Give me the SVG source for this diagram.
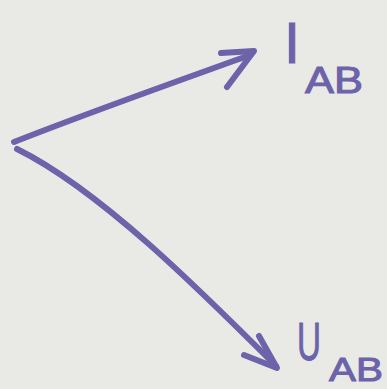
<svg xmlns="http://www.w3.org/2000/svg" width="387" height="389" viewBox="0 0 387 389">
<style>
.pen{fill:none;stroke:#6c63aa;stroke-width:6;stroke-linecap:round;stroke-linejoin:round}
.lbl{fill:#6c63aa;stroke:#6c63aa;stroke-width:1;font-family:"Liberation Sans",Arial,sans-serif}
</style>
<rect width="387" height="389" fill="#e9e9e5"/>
<g id="connectors">
<path class="pen" d="M14,142 C90,112 170,84 250,55"/>
<path class="pen" d="M221,53 L254,51 L227,87"/>
<path class="pen" d="M17,149 C100,190 200,290 276,366"/>
<path class="pen" d="M244,355 L277,368 L259,336"/>
</g>
<g id="I_AB">
<text class="lbl" x="284" y="63" font-size="58">I</text>
<text class="lbl" x="305" y="93" font-size="36" textLength="58" lengthAdjust="spacingAndGlyphs">AB</text>
</g>
<g id="U_AB">
<text class="lbl" x="297" y="360" font-size="54" textLength="24" lengthAdjust="spacingAndGlyphs">U</text>
<text class="lbl" x="329" y="381" font-size="33" textLength="54" lengthAdjust="spacingAndGlyphs">AB</text>
</g>
</svg>
